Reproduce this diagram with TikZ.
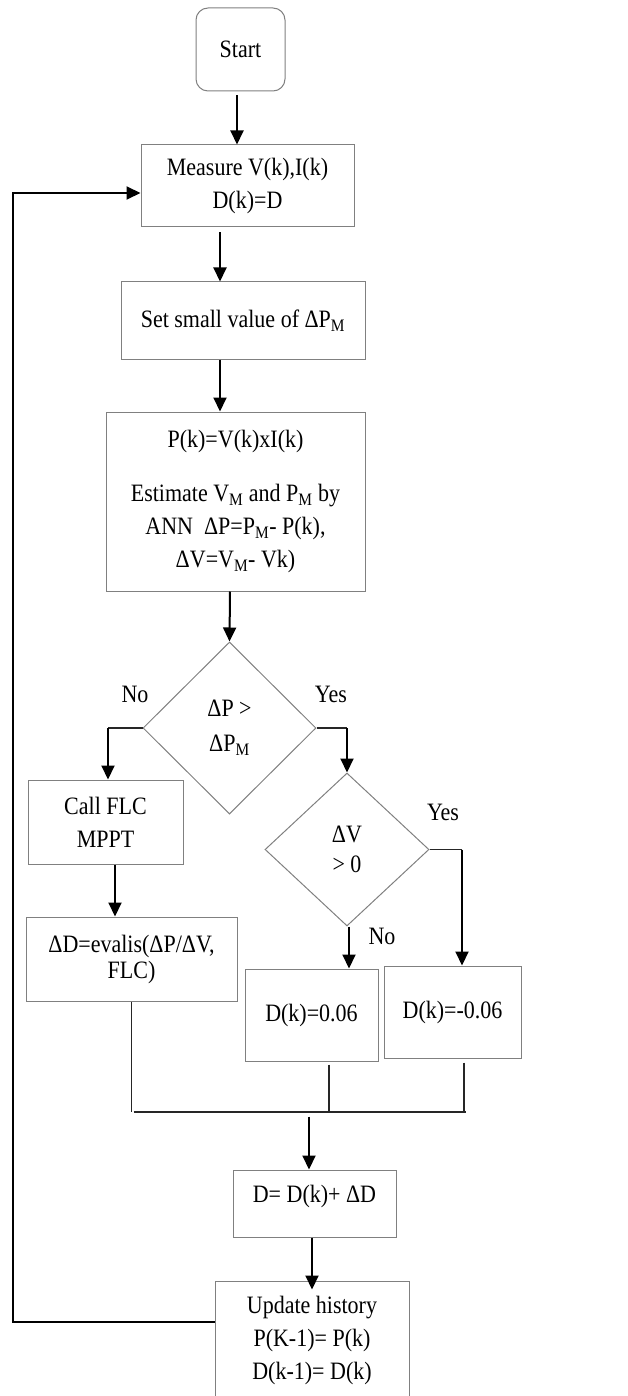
\documentclass[tikz,border=0pt]{standalone}
\usepackage{fontspec}
\setmainfont{Liberation Serif}[FakeStretch=0.88]
\usetikzlibrary{shapes.geometric,arrows.meta,calc}
\definecolor{boxgray}{gray}{0.5}

\begin{document}
\begin{tikzpicture}[x=1pt,y=-1pt,
  every node/.style={font=\fontsize{25}{33}\selectfont, inner sep=0pt},
  box/.style={draw=boxgray, line width=1pt, rectangle, align=center},
  dec/.style={draw=boxgray, line width=1pt, diamond, align=center},
  arr/.style={line width=2pt, -{Triangle[length=14pt,width=13pt]}},
  link/.style={line width=1.2pt, draw=black!85},
  lbl/.style={anchor=base}]
\clip (0,0) rectangle (627,1396);

% process boxes
\node[box, rounded corners=12pt, minimum width=89pt, minimum height=83pt] (start) at (240.5,49.5) {Start};
\node[box, minimum width=213pt, minimum height=82pt] (meas) at (247.5,186) {Measure V(k),I(k)\\D(k)=D};
\node[box, minimum width=244pt, minimum height=77pt] (setdp) at (243,320.5) {Set small value of ΔP\textsubscript{M}};
\node[box, minimum width=259pt, minimum height=179pt] (calc) at (235.5,501.5)
  {P(k)=V(k)xI(k)\\[21pt]Estimate V\textsubscript{M} and P\textsubscript{M} by\\ANN\ \ ΔP=P\textsubscript{M}- P(k),\\ΔV=V\textsubscript{M}- Vk)};
\node[dec, minimum width=173pt, minimum height=172pt, font=\fontsize{25}{35}\selectfont] (dp) at (229.5,728) {ΔP >\\ΔP\textsubscript{M}};
\node[dec, minimum width=164pt, minimum height=153pt, font=\fontsize{25}{30}\selectfont] (dv) at (347,849.5) {ΔV\\> 0};
\node[box, minimum width=155pt, minimum height=84pt] (flc) at (105.5,822) {Call FLC\\MPPT};
\node[box, minimum width=211pt, minimum height=84pt, font=\fontsize{25}{26}\selectfont] (dd) at (131.5,959) {ΔD=evalis(ΔP/ΔV,\\FLC)};
\node[box, minimum width=133pt, minimum height=92pt] (pos) at (311.5,1015) {D(k)=0.06};
\node[box, minimum width=137pt, minimum height=92pt] (neg) at (452.5,1012) {D(k)=-0.06};
\node[box, minimum width=163pt, minimum height=67pt] (sum) at (314.5,1203.5) {\raisebox{7pt}[\height][\depth]{D= D(k)+ ΔD}};
\node[box, minimum width=194pt, minimum height=119pt] (upd) at (312,1340.5) {Update history\\P(K-1)= P(k)\\D(k-1)= D(k)};

% branch labels
\node[lbl] (lno1) at (135,702) {No};
\node[lbl] (lyes1) at (331,702) {Yes};
\node[lbl] (lyes2) at (443,820) {Yes};
\node[lbl] (lno2) at (382,944) {No};

% main flow
\draw[arr] ([xshift=-3.5pt,yshift=-4pt]start.south) -- ([xshift=-10.5pt]meas.north);
\draw[arr] ([xshift=-27.5pt,yshift=-5pt]meas.south) -- ([xshift=-23pt]setdp.north);
\draw[arr] ([xshift=-23pt]setdp.south) -- ([xshift=-15.5pt]calc.north);
\draw[arr] ([xshift=-5.5pt]calc.south) -- (dp.north);

% first decision
\coordinate (noTop) at ([xshift=2.5pt]flc.north);
\coordinate (noCorner) at (noTop |- dp.west);
\draw[link] (dp.west) -- (noCorner);
\draw[arr] (noCorner) -- (noTop);
\coordinate (yesCorner) at (dv.north |- dp.east);
\draw[link] (dp.east) -- (yesCorner);
\draw[arr] (yesCorner) -- (dv.north);
\draw[arr] ([xshift=9.5pt]flc.south) -- ([xshift=-16.5pt]dd.north);

% second decision
\coordinate (negTop) at ([xshift=9.5pt]neg.north);
\coordinate (yes2Corner) at (negTop |- dv.east);
\draw[link] (dv.east) -- (yes2Corner);
\draw[arr] (yes2Corner) -- (negTop);
\draw[arr] ([xshift=2pt]dv.south) -- ([xshift=37.5pt]pos.north);

% merging bus
\coordinate (busY) at (0,1112);
\coordinate (jA) at ([xshift=17.5pt,yshift=-3pt]pos.south);
\coordinate (jB) at ([xshift=11.5pt,yshift=-4pt]neg.south);
\coordinate (busL) at ($(dd.south |- busY)+(2,0)$);
\coordinate (busR) at ($(jB |- busY)+(2,0)$);
\draw[link] (dd.south) -- (dd.south |- busY);
\draw[link] (jA) -- (jA |- busY);
\draw[link] (jB) -- (jB |- busY);
\draw[link] (busL) -- (busR);
\coordinate (busOut) at ($(sum.north)+(-5.5,-53)$);
\draw[arr] (busOut) -- ([xshift=-5.5pt]sum.north);
\draw[arr] ([xshift=-2.5pt]sum.south) -- ([yshift=-9pt]upd.north);

% feedback loop
\coordinate (fbStart) at ([yshift=18.5pt]upd.west);
\coordinate (fbEnd) at ([yshift=-7pt]meas.west);
\draw[arr] (fbStart) -- ++(-202,0) |- (fbEnd);
\end{tikzpicture}
\end{document}
